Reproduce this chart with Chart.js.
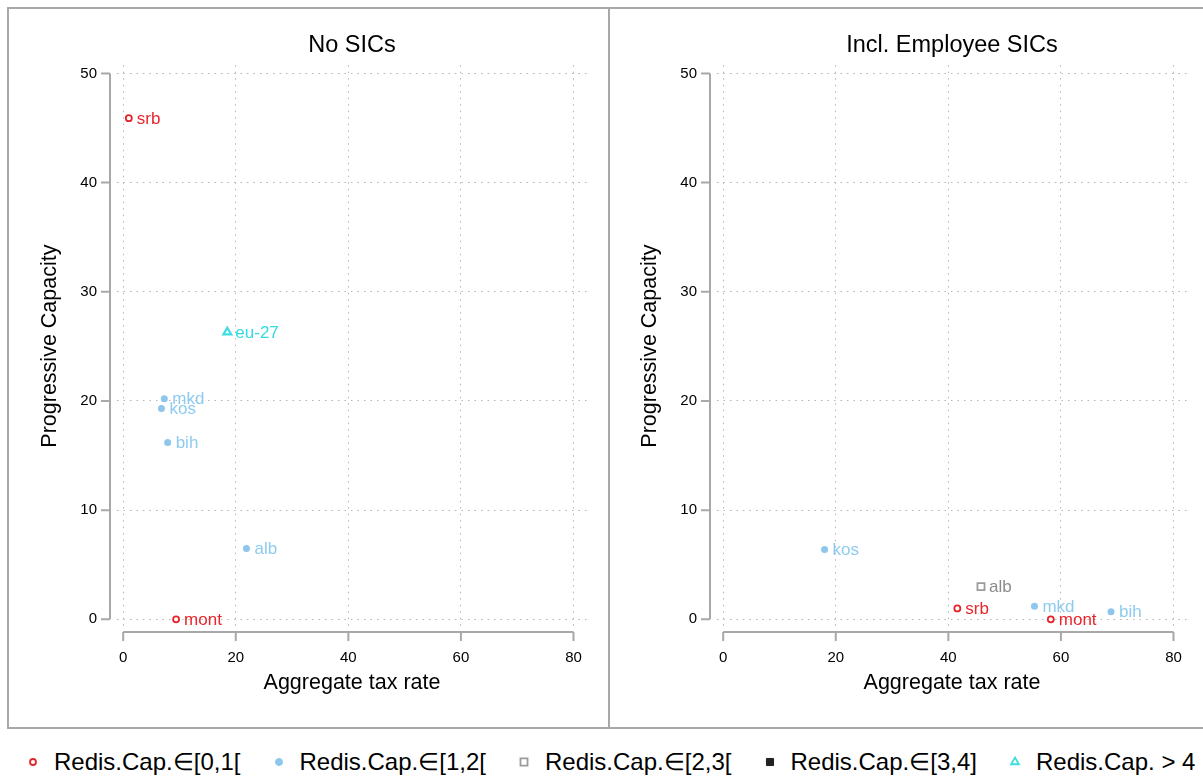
<!DOCTYPE html>
<html>
<head>
<meta charset="utf-8">
<script src="https://cdn.jsdelivr.net/npm/chart.js@4/dist/chart.umd.min.js"></script>
<style>
body{margin:0;background:#fff;overflow:hidden;font-family:'Liberation Sans',Arial,sans-serif;}
#page{position:relative;width:1203px;height:777px;overflow:hidden;}
.panel{position:absolute;top:7px;height:722px;border:2px solid #a8a8a8;box-sizing:border-box;}
#boxL{left:7px;width:603px;}
#boxR{left:608px;width:598px;}
canvas.plot{position:absolute;top:10px;}
#cL{left:10px;}
#cR{left:610px;}
#legend{position:absolute;top:748px;left:0;width:1203px;height:28px;}
.item{position:absolute;top:0;height:28px;display:flex;align-items:center;font-size:24px;white-space:nowrap;color:#000;}
.item canvas{margin-right:14px;}
</style>
</head>
<body>
<div id="page">
  <div class="panel" id="boxL"></div>
  <div class="panel" id="boxR"></div>
  <canvas class="plot" id="cL" width="596" height="716"></canvas>
  <canvas class="plot" id="cR" width="596" height="716"></canvas>
  <div id="legend"></div>
</div>
<script>
// ========== Data ==========
const categories = ['Redis.Cap.\u2208[0,1[', 'Redis.Cap.\u2208[1,2[', 'Redis.Cap.\u2208[2,3[', 'Redis.Cap.\u2208[3,4]', 'Redis.Cap. > 4'];
const catColors  = ['#e4262b', '#8ec6ec', '#9b9b9b', '#222222', '#3fdde0'];
const catText    = ['#e8262b', '#8ecbf0', '#8c8c8c', '#222222', '#30dcdf'];
const catStyles  = ['circle', 'circle', 'rect', 'rect', 'triangle'];
const catFilled  = [false, true, false, true, false];
const catRadius  = [3, 3.5, 5, 5, 4.5];

// panel 1: No SICs
const noSicsCountry = ['srb', 'mont', 'mkd', 'kos', 'bih', 'alb', 'eu-27'];
const noSicsTax     = [1.0, 9.4, 7.3, 6.8, 7.9, 21.9, 18.5];
const noSicsCap     = [45.9, 0.0, 20.2, 19.3, 16.2, 6.5, 26.3];
const noSicsClass   = [0, 0, 1, 1, 1, 1, 4];

// panel 2: Incl. Employee SICs
const empSicsCountry = ['kos', 'alb', 'srb', 'mkd', 'mont', 'bih'];
const empSicsTax     = [18.0, 45.8, 41.6, 55.3, 58.2, 68.9];
const empSicsCap     = [6.4, 3.0, 1.0, 1.2, 0.0, 0.7];
const empSicsClass   = [1, 2, 0, 1, 0, 1];

const xTicks = [0, 20, 40, 60, 80];
const yTicks = [0, 10, 20, 30, 40, 50];

const FONT = "'Liberation Sans', Arial, sans-serif";
const AXIS_COL = '#a8a8a8';
Chart.defaults.font.family = FONT;
Chart.defaults.color = '#000';

// ========== Plugins ==========
// labels next to each marker, Stata style (clock pos 3)
const pointLabels = {
  id: 'pointLabels',
  afterDatasetsDraw(chart){
    const ctx = chart.ctx;
    ctx.save();
    ctx.font = '17px ' + FONT;
    ctx.textBaseline = 'middle';
    chart.data.datasets.forEach((ds, i) => {
      const meta = chart.getDatasetMeta(i);
      ctx.fillStyle = ds.textColor;
      meta.data.forEach((pt, j) => ctx.fillText(ds.names[j], pt.x + 8, pt.y + 1));
    });
    ctx.restore();
  }
};

// axis lines pulled away from the plot region
const offsetAxes = {
  id: 'offsetAxes',
  afterDraw(chart){
    const {ctx, chartArea: a, scales: {x, y}} = chart;
    ctx.save();
    ctx.strokeStyle = AXIS_COL;
    ctx.lineWidth = 2;
    const lx = a.left - 7;
    const by = a.bottom + 5;
    ctx.beginPath();
    ctx.moveTo(lx, y.getPixelForValue(yTicks[0]));
    ctx.lineTo(lx, y.getPixelForValue(yTicks[yTicks.length - 1]));
    yTicks.forEach(v => { const p = y.getPixelForValue(v); ctx.moveTo(lx - 9, p); ctx.lineTo(lx, p); });
    ctx.moveTo(x.getPixelForValue(xTicks[0]), by);
    ctx.lineTo(x.getPixelForValue(xTicks[xTicks.length - 1]), by);
    xTicks.forEach(v => { const p = x.getPixelForValue(v); ctx.moveTo(p, by); ctx.lineTo(p, by + 9); });
    ctx.stroke();
    ctx.restore();
  }
};

// ========== Build ==========
function buildDatasets(names, tax, cap, cls){
  return categories.map((c, k) => {
    const idx = cls.map((v, i) => v === k ? i : -1).filter(i => i >= 0);
    return {
      label: c,
      data: idx.map(i => ({x: tax[i], y: cap[i]})),
      names: idx.map(i => names[i]),
      textColor: catText[k],
      pointStyle: catStyles[k],
      pointRadius: catRadius[k],
      pointHoverRadius: catRadius[k],
      pointBorderWidth: catFilled[k] ? 0 : (catStyles[k] === 'triangle' ? 2.2 : 1.8),
      borderColor: catColors[k],
      backgroundColor: catFilled[k] ? catColors[k] : '#ffffff'
    };
  });
}

function makeChart(id, title, datasets){
  return new Chart(document.getElementById(id), {
    type: 'scatter',
    data: {datasets},
    options: {
      responsive: false,
      animation: false,
      layout: {padding: {right: 19, top: 0, bottom: 0, left: 0}},
      plugins: {
        legend: {display: false},
        tooltip: {enabled: false},
        title: {display: true, text: title, fullSize: false, font: {size: 23.5, weight: 'normal'}, color: '#000', padding: {top: 21, bottom: 6}}
      },
      scales: {
        x: {
          min: -1.1, max: 82.4,
          afterBuildTicks: s => { s.ticks = xTicks.map(v => ({value: v})); },
          afterFit: s => { s.height = 99; },
          ticks: {font: {size: 15}, padding: 22, maxRotation: 0, callback: v => v},
          grid: {drawTicks: false, color: '#b5b5b5', lineWidth: 1},
          border: {display: false, dash: [1.5, 5]},
          title: {display: true, text: 'Aggregate tax rate', font: {size: 21.5}, padding: {top: 0, bottom: 30}}
        },
        y: {
          min: -0.7, max: 50.75,
          afterBuildTicks: s => { s.ticks = yTicks.map(v => ({value: v})); },
          afterFit: s => { s.width = 107; },
          ticks: {font: {size: 15}, padding: 20, callback: v => v},
          grid: {drawTicks: false, color: '#b5b5b5', lineWidth: 1},
          border: {display: false, dash: [1.5, 5]},
          title: {display: true, text: 'Progressive Capacity', font: {size: 21.5}, padding: {top: 27, bottom: 0}}
        }
      }
    },
    plugins: [pointLabels, offsetAxes]
  });
}

makeChart('cL', 'No SICs', buildDatasets(noSicsCountry, noSicsTax, noSicsCap, noSicsClass));
makeChart('cR', 'Incl. Employee SICs', buildDatasets(empSicsCountry, empSicsTax, empSicsCap, empSicsClass));

// ========== Legend ==========
const legend = document.getElementById('legend');
categories.forEach((c, k) => {
  const item = document.createElement('div');
  item.className = 'item';
  item.style.left = (26 + k * 245.5) + 'px';
  const mk = document.createElement('canvas');
  mk.width = 14; mk.height = 14;
  const ctx = mk.getContext('2d');
  ctx.strokeStyle = catColors[k];
  ctx.fillStyle = catFilled[k] ? catColors[k] : '#ffffff';
  ctx.lineWidth = catFilled[k] ? 0 : 1.8;
  Chart.helpers.drawPoint(ctx, {pointStyle: catStyles[k], radius: catRadius[k], borderWidth: ctx.lineWidth}, 7, 7);
  item.appendChild(mk);
  const span = document.createElement('span');
  span.textContent = c;
  item.appendChild(span);
  legend.appendChild(item);
});
</script>
</body>
</html>
